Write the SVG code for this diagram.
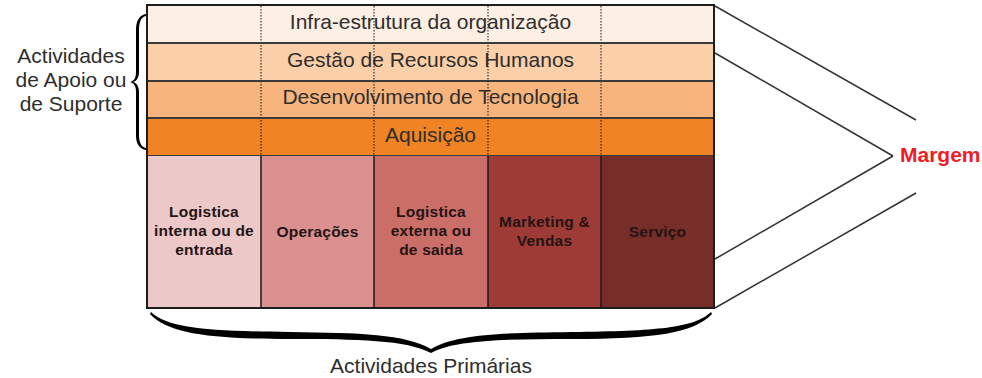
<svg xmlns="http://www.w3.org/2000/svg" width="982" height="378" viewBox="0 0 982 378">
<style>
.lbl{font-family:"Liberation Sans",Arial,sans-serif;font-size:21px;fill:#2e2e2e;text-anchor:middle}
.prim{font-family:"Liberation Sans",Arial,sans-serif;font-size:15.5px;font-weight:bold;fill:#241414;text-anchor:middle;letter-spacing:0.2px}
.sep{stroke:#3a3a3a;stroke-width:2}
.dot{stroke:#111;stroke-width:1;stroke-dasharray:1.5 1.5}
.solid{stroke:#1a1a1a;stroke-width:1.5}
.conn{stroke:#333;stroke-width:1.5;fill:none}
</style>
<rect width="982" height="378" fill="#fff"/>
<g id="support">
  <g id="infra"><rect x="147" y="5" width="567" height="38" fill="#fdefe3"/><text class="lbl" x="430.5" y="29">Infra-estrutura da organização</text></g>
  <g id="rh"><rect x="147" y="43" width="567" height="38" fill="#fbcfa8"/><text class="lbl" x="430.5" y="67">Gestão de Recursos Humanos</text></g>
  <g id="tec"><rect x="147" y="81" width="567" height="37" fill="#f7b47c"/><text class="lbl" x="430.5" y="104">Desenvolvimento de Tecnologia</text></g>
  <g id="aquis"><rect x="147" y="118" width="567" height="38" fill="#f08425"/><text class="lbl" x="430.5" y="142">Aquisição</text></g>
  <line class="dot" x1="261" y1="6" x2="261" y2="156"/>
  <line class="dot" x1="374" y1="6" x2="374" y2="156"/>
  <line class="dot" x1="488" y1="6" x2="488" y2="156"/>
  <line class="dot" x1="601" y1="6" x2="601" y2="156"/>
  <line class="sep" x1="147" y1="43" x2="714" y2="43"/>
  <line class="sep" x1="147" y1="81" x2="714" y2="81"/>
  <line class="sep" x1="147" y1="118" x2="714" y2="118"/>
  <line class="sep" x1="147" y1="156" x2="714" y2="156"/>
</g>
<g id="primary">
  <g id="log-in"><rect x="147" y="156" width="114" height="152" fill="#ecc9c8"/><text class="prim" x="204" y="217">Logistica</text><text class="prim" x="204" y="236">interna ou de</text><text class="prim" x="204" y="255">entrada</text></g>
  <g id="oper"><rect x="261" y="156" width="113" height="152" fill="#d9908e"/><text class="prim" x="317.5" y="237">Operações</text></g>
  <g id="log-out"><rect x="374" y="156" width="114" height="152" fill="#cc6e68"/><text class="prim" x="431" y="217">Logistica</text><text class="prim" x="431" y="236">externa ou</text><text class="prim" x="431" y="255">de saida</text></g>
  <g id="mkt"><rect x="488" y="156" width="113" height="152" fill="#9e3b37"/><text class="prim" x="544.5" y="227">Marketing &amp;</text><text class="prim" x="544.5" y="246">Vendas</text></g>
  <g id="serv"><rect x="601" y="156" width="113" height="152" fill="#772d28"/><text class="prim" x="657.5" y="237">Serviço</text></g>
  <line class="solid" x1="261" y1="156" x2="261" y2="308"/>
  <line class="solid" x1="374" y1="156" x2="374" y2="308"/>
  <line class="solid" x1="488" y1="156" x2="488" y2="308"/>
  <line class="solid" x1="601" y1="156" x2="601" y2="308"/>
</g>
<rect x="147" y="5" width="567" height="303" fill="none" stroke="#1e1e1e" stroke-width="2"/>
<g id="support-label">
  <path d="M146,14 C140,15 136,20 136,30 L136,72 C136,78 134,81 130,82 C134,83 136,86 136,92 L136,136 C136,144 140,149 146,150 L146,148 C141,147 139,142 139,135 L139,92 C139,87 137,83 133,82 C137,81 139,77 139,72 L139,31 C139,22 141,17 146,16 Z" fill="#000"/>
  <text class="lbl" x="71" y="63">Actividades</text>
  <text class="lbl" x="71" y="87">de Apoio ou</text>
  <text class="lbl" x="71" y="111">de Suporte</text>
</g>
<g id="primary-label">
  <path d="M151,312 C168,328 205,331 290,332 C360,333 405,334 431,349 C457,334 502,333 572,332 C657,331 694,328 711,312 L712,314 C694,333 655,339 572,339 C505,339 455,340 431,353 C407,340 357,339 290,339 C207,339 168,333 150,314 Z" fill="#000"/>
  <text class="lbl" x="431" y="373">Actividades Primárias</text>
</g>
<g id="connectors">
  <line class="conn" x1="715" y1="6" x2="916" y2="120"/>
  <line class="conn" x1="715" y1="53" x2="893" y2="156"/>
  <line class="conn" x1="715" y1="259" x2="893" y2="156"/>
  <line class="conn" x1="715" y1="308" x2="916" y2="193"/>
</g>
<g id="margem">
  <text x="900" y="162" font-family="'Liberation Sans',Arial,sans-serif" font-size="21" font-weight="bold" fill="#ee1c25">Margem</text>
</g>
</svg>
